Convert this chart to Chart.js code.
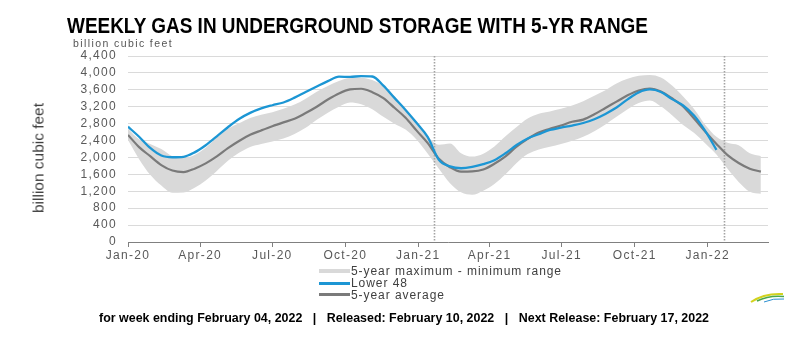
<!DOCTYPE html>
<html><head><meta charset="utf-8">
<script src="https://cdn.jsdelivr.net/npm/chart.js@4.4.1/dist/chart.umd.min.js"></script>
<style>
html,body{margin:0;padding:0;background:#fff;}
body{width:792px;height:355px;position:relative;overflow:hidden;font-family:"Liberation Sans",Arial,sans-serif;}
#c{position:absolute;left:0;top:0;}
.abs{position:absolute;white-space:nowrap;}
#title{left:67px;top:15px;font-family:"Liberation Sans Narrow","Liberation Sans",sans-serif;font-weight:bold;font-size:22px;line-height:22px;color:#000;transform-origin:0 0;}
#unit{left:73px;top:37px;font-size:10.5px;line-height:12px;color:#555;}
#ywrap{left:38px;top:158px;width:0;height:0;}
#ytitle{position:absolute;left:0;top:0;white-space:nowrap;font-family:"Liberation Sans Narrow","Liberation Sans",sans-serif;font-size:15px;line-height:15px;color:#404040;transform-origin:50% 50%;}
.lrow{position:absolute;left:319px;height:12px;line-height:12px;font-size:12px;color:#404040;white-space:nowrap;}
.lsw{position:absolute;left:0;width:31px;}
.ltx{position:absolute;left:32px;top:0;}
#footer{left:99px;top:311px;font-family:"Liberation Sans Narrow","Liberation Sans",sans-serif;font-weight:bold;font-size:13px;line-height:13px;color:#000;transform-origin:0 0;}
#footer .sep{margin:0 11px;}
</style></head>
<body>
<canvas id="c" width="792" height="355"></canvas>
<div id="title" class="abs">WEEKLY GAS IN UNDERGROUND STORAGE WITH 5-YR RANGE</div>
<div id="unit" class="abs">billion cubic feet</div>
<div id="ywrap" class="abs"><span id="ytitle">billion cubic feet</span></div>
<div id="legend"></div>
<div id="footer" class="abs">for week ending February 04, 2022<span class="sep">|</span>Released: February 10, 2022<span class="sep">|</span>Next Release: February 17, 2022</div>
<svg class="abs" style="left:748px;top:289px" width="40" height="16">
<path d="M3 13 Q16 4 35 5" stroke="#d2d21e" stroke-width="2" fill="none"/>
<path d="M9 12 Q21 6 36 7.5" stroke="#4aa84a" stroke-width="1.5" fill="none"/>
<path d="M16 13 Q25 9 36 10" stroke="#2b8fd0" stroke-width="1" fill="none"/>
</svg>
<script>
// x positions: days since the Jan-20 tick
const weekDays = [0,14,28,42,56,70,84,98,112,126,140,154,168,182,196,210,224,238,252,266,280,294,308,322,336,350,364,378,392,406,420,434,448,462,476,490,504,518,532,546,560,574,588,602,616,630,644,658,672,686,700,714,728,742,756,770,784,798];
const lower48 = [2728,2490,2225,2045,2005,2015,2120,2290,2500,2715,2910,3055,3160,3235,3300,3415,3550,3680,3805,3910,3905,3925,3915,3700,3410,3125,2815,2480,1945,1790,1745,1775,1840,1935,2100,2295,2450,2550,2650,2705,2755,2815,2905,3030,3180,3375,3540,3610,3550,3380,3230,2985,2620,2180,null,null,null,null];
const fiveYrAvg = [2532,2245,2030,1820,1690,1655,1735,1860,2025,2220,2390,2535,2640,2740,2830,2915,3050,3200,3370,3515,3610,3625,3545,3405,3175,2940,2635,2340,1970,1770,1665,1670,1715,1850,2025,2255,2440,2590,2675,2755,2845,2895,3020,3170,3320,3470,3585,3630,3560,3400,3205,2915,2610,2320,2055,1870,1735,1665];
const fiveYrMax = [2680,2430,2320,2200,2030,1990,2060,2230,2470,2680,2810,2935,3010,3070,3150,3250,3390,3555,3690,3810,3880,3885,3830,3690,3450,3130,2845,2500,2300,2330,2100,2020,2090,2260,2500,2720,2920,3035,3090,3150,3230,3330,3460,3590,3750,3860,3930,3950,3890,3700,3440,3140,2770,2490,2350,2290,2100,2035];
const fiveYrMin = [2413,1960,1590,1335,1165,1170,1285,1455,1680,1920,2110,2250,2320,2380,2450,2555,2700,2890,3060,3200,3300,3260,3140,2960,2800,2660,2420,2090,1730,1390,1175,1120,1215,1370,1600,1870,2080,2190,2255,2320,2395,2490,2620,2780,2960,3140,3290,3350,3210,3000,2770,2580,2330,2070,1730,1420,1190,1140];
const tickDays = [0,91,182,274,366,456,547,639,731];
const tickLabels = ['Jan-20','Apr-20','Jul-20','Oct-20','Jan-21','Apr-21','Jul-21','Oct-21','Jan-22'];
const markerDays = [386,752];
const xMax = 807;
const yMax = 4400;
const yStep = 400;
const bandLabel = '5-year maximum - minimum range';
const l48Label = 'Lower 48';
const avgLabel = '5-year average';

const BLUE = '#1c96d4', AVG = '#7a7a7a', BAND = '#d9d9d9';

const spacingPlugin = {
  id: 'spacing',
  beforeDraw(chart){ chart.ctx.letterSpacing = '1.3px'; },
  beforeDatasetsDraw(chart){ chart.ctx.letterSpacing = '0px'; }
};
const markerPlugin = {
  id: 'markers',
  afterDatasetDraw(chart, args){
    if (args.index !== 1) return;
    const {ctx, chartArea, scales} = chart;
    ctx.save();
    ctx.strokeStyle = '#a3a3a3';
    ctx.lineWidth = 1.6;
    ctx.setLineDash([1.5, 1.5]);
    markerDays.forEach(d => {
      const px = Math.round(scales.x.getPixelForValue(d)) + 0.5;
      ctx.beginPath(); ctx.moveTo(px, chartArea.top); ctx.lineTo(px, chartArea.bottom); ctx.stroke();
    });
    ctx.restore();
  }
};

const tickFont = {family: '"Liberation Sans", Arial, sans-serif', size: 12};

new Chart(document.getElementById('c'), {
  type: 'line',
  data: {
    labels: weekDays,
    datasets: [
      {label: bandLabel, data: fiveYrMax, fill: '+1', backgroundColor: BAND, borderWidth: 0, pointRadius: 0, order: 3, cubicInterpolationMode: 'monotone'},
      {label: bandLabel + ' low', data: fiveYrMin, fill: false, borderWidth: 0, pointRadius: 0, order: 2, cubicInterpolationMode: 'monotone'},
      {label: avgLabel, data: fiveYrAvg, fill: false, borderColor: AVG, borderWidth: 2.2, pointRadius: 0, order: 1, cubicInterpolationMode: 'monotone'},
      {label: l48Label, data: lower48, fill: false, borderColor: BLUE, borderWidth: 2.3, pointRadius: 0, order: 0, cubicInterpolationMode: 'monotone', spanGaps: false}
    ]
  },
  options: {
    responsive: false,
    animation: false,
    devicePixelRatio: 1,
    layout: {padding: {left: 0, right: 24, top: 56, bottom: 83}},
    plugins: {legend: {display: false}, tooltip: {enabled: false}},
    scales: {
      x: {
        type: 'linear', min: 0, max: xMax,
        afterBuildTicks(scale){ scale.ticks = tickDays.map(v => ({value: v})); },
        afterFit(scale){ scale.height = 30; },
        ticks: {autoSkip: false, maxRotation: 0, padding: 1, color: '#595959', font: tickFont,
          callback: (v, i) => tickLabels[i]},
        grid: {drawOnChartArea: false, drawTicks: true, tickLength: 5, color: '#808080'},
        border: {display: true, color: '#808080', width: 1}
      },
      y: {
        min: 0, max: yMax,
        afterFit(scale){ scale.width = 128; },
        ticks: {stepSize: yStep, autoSkip: false, padding: 11, color: '#595959', font: tickFont,
          callback: v => v.toLocaleString('en-US')},
        grid: {drawTicks: false, color: '#dadada'},
        border: {display: false}
      }
    }
  },
  plugins: [spacingPlugin, markerPlugin]
});

// legend
const legendDefs = [[bandLabel, BAND, 4, 271], [l48Label, BLUE, 3, 283], [avgLabel, AVG, 3, 294.5]];
const lg = document.getElementById('legend');
legendDefs.forEach(([t, col, th, cy]) => {
  const r = document.createElement('div');
  r.className = 'lrow';
  r.style.top = (cy - 6) + 'px';
  r.innerHTML = '<div class="lsw" style="top:' + (6 - th/2) + 'px;height:' + th + 'px;background:' + col + '"></div><span class="ltx">' + t + '</span>';
  lg.appendChild(r);
});

function fitScale(el, w){ const nw = el.getBoundingClientRect().width; el.style.transform = 'scaleX(' + (w/nw) + ')'; }
function fitSpacing(el, w){ const nw = el.getBoundingClientRect().width; el.style.letterSpacing = ((w - nw)/el.textContent.length) + 'px'; }
fitScale(document.getElementById('title'), 581);
fitScale(document.getElementById('footer'), 610);
fitSpacing(document.getElementById('unit'), 100);
const txs = document.querySelectorAll('.ltx');
const w0 = txs[0].getBoundingClientRect().width;
const sp = (211 - w0) / txs[0].textContent.length;
txs.forEach(e => e.style.letterSpacing = sp + 'px');
const yt = document.getElementById('ytitle');
const ytw = yt.getBoundingClientRect().width;
yt.style.transform = 'translate(-50%,-50%) rotate(-90deg) scaleX(' + (110/ytw) + ')';
</script>
</body></html>
